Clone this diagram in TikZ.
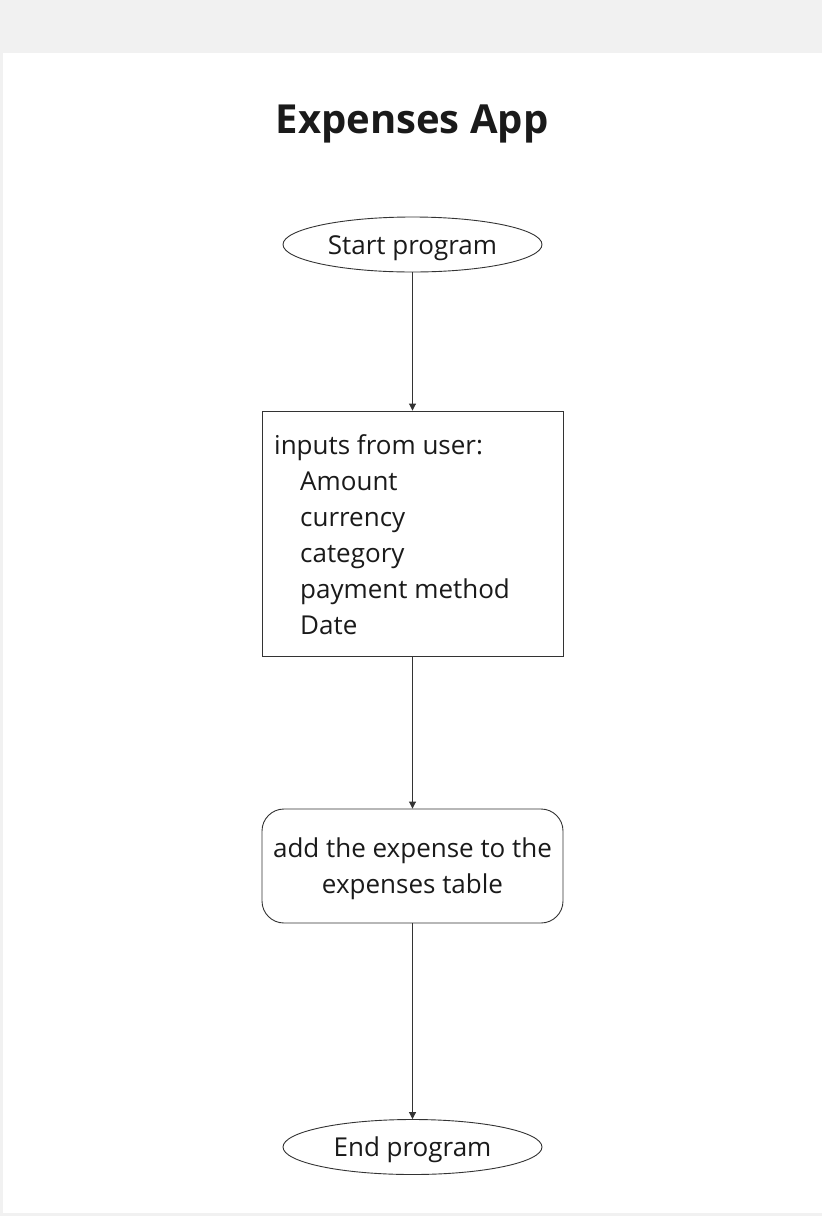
\documentclass[tikz,border=0pt]{standalone}
\usepackage{fontspec}
\setmainfont{Open Sans}
\usetikzlibrary{shapes.geometric,arrows.meta}
\definecolor{bgray}{HTML}{F1F1F1}
\definecolor{ink}{HTML}{1A1A1A}
\definecolor{edge}{HTML}{333333}
\tikzset{
  every node/.style={text=ink},
  termin/.style={draw=edge, line width=0.9pt, ellipse, minimum width=259pt, minimum height=55pt, inner sep=0pt, text height=26pt, text depth=6.3pt, font=\fontsize{26}{36}\selectfont},
  proc/.style={draw=edge, line width=0.9pt, rounded corners=22pt, minimum width=301pt, minimum height=114pt, align=center, inner sep=0pt, text depth=0pt, font=\fontsize{26}{36}\selectfont},
  inbox/.style={draw=edge, line width=0.9pt, minimum width=301pt, minimum height=245pt, inner sep=0pt},
  conn/.style={draw=edge, line width=0.9pt, -{Triangle[length=7pt,width=7pt]}},
}
\begin{document}
\begin{tikzpicture}[x=1pt,y=-1pt]
\useasboundingbox (0,0) rectangle (822,1216);
\fill[bgray] (0,0) rectangle (822,1216);
\fill[white] (3,53) rectangle (822,1213);
\node[font=\fontsize{40}{44}\selectfont\bfseries] (title) at (412,124) {Expenses App};
\node[termin] (start) at (412.5,244.5) {Start program};
\node[inbox] (inp) at (412.5,533.5) {};
\node[anchor=north west, align=left, inner sep=0pt, font=\fontsize{26}{36}\selectfont] (inptxt) at (274,434) {inputs from user:\\
\hspace*{26pt}Amount\\
\hspace*{26pt}currency\\
\hspace*{26pt}category\\
\hspace*{26pt}payment method\\
\hspace*{26pt}Date};
\node[proc] (add) at (412.5,866) {add the expense to the\\expenses table};
\node[termin] (end) at (412.5,1147) {End program};
\draw[conn] (start) -- (inp);
\draw[conn] (inp) -- (add);
\draw[conn] (add) -- (end);
\end{tikzpicture}
\end{document}
